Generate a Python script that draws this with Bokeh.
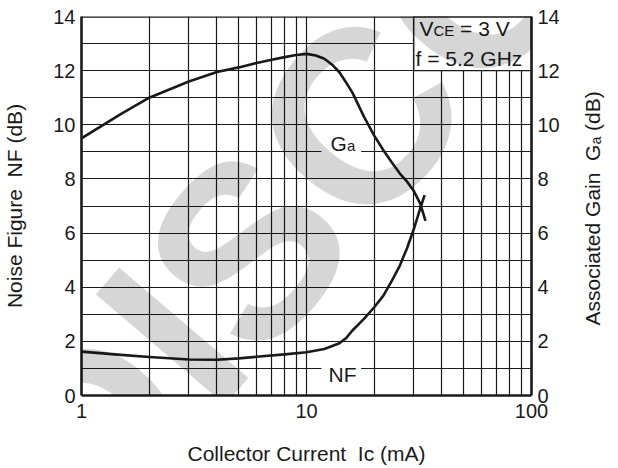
import math
from bokeh.plotting import figure
from bokeh.models import LinearAxis, FixedTicker, BasicTickFormatter, Label, Span
from bokeh.embed import file_html
from bokeh.resources import INLINE

# ---- data ----
ga_current = [1, 1.5, 2, 3, 4, 5, 6, 7, 8, 9, 10, 11, 12, 13, 14, 15, 16, 18, 20, 22, 24, 26, 28, 30, 32, 33.8]
ga_db = [9.5, 10.4, 11.0, 11.6, 11.95, 12.12, 12.28, 12.4, 12.5, 12.58, 12.62, 12.56, 12.44, 12.22, 11.94, 11.56, 11.19,
         10.3, 9.6, 9.05, 8.6, 8.2, 7.9, 7.55, 7.1, 6.45]
nf_current = [1, 1.5, 2, 3, 4, 5, 6, 8, 10, 12, 14, 15, 16, 18, 20, 22, 24, 26, 28, 30, 32, 33.5]
nf_db = [1.62, 1.5, 1.42, 1.33, 1.32, 1.37, 1.43, 1.52, 1.6, 1.72, 1.93, 2.12, 2.4, 2.83, 3.26, 3.7, 4.25, 4.8, 5.45,
         6.15, 6.9, 7.4]
x_major_ticks = [1, 10, 100]
x_grid_ticks = [1, 2, 3, 4, 5, 6, 7, 8, 9, 10, 20, 30, 40, 50, 60, 70, 80, 90, 100]
y_major_ticks = [0, 2, 4, 6, 8, 10, 12, 14]
y_grid_ticks = list(range(0, 15))

FONT = "Liberation Sans"
INK = "#1a1a1a"
NB = "\u00a0"

p = figure(width=618, height=468, x_axis_type="log", x_range=(1, 100), y_range=(0, 14),
           output_backend="svg", toolbar_location=None,
           min_border_left=81, min_border_right=85, min_border_top=16, min_border_bottom=73)
p.outline_line_color = None
p.background_fill_color = "white"
p.border_fill_color = "white"

# grids
p.xgrid.ticker = FixedTicker(ticks=x_grid_ticks)
p.ygrid.ticker = FixedTicker(ticks=y_grid_ticks)
for g in (p.xgrid, p.ygrid):
    g.grid_line_color = INK
    g.grid_line_width = 1.2
    g.grid_line_alpha = 1.0

# axes
p.xaxis.ticker = FixedTicker(ticks=x_major_ticks)
p.xaxis.formatter = BasicTickFormatter()
p.yaxis.ticker = FixedTicker(ticks=y_major_ticks)
right = LinearAxis(ticker=FixedTicker(ticks=y_major_ticks))
p.add_layout(right, "right")
for ax in (p.xaxis[0], p.yaxis[0], right):
    ax.axis_line_color = INK
    ax.axis_line_width = 2.6
    ax.major_tick_line_color = None
    ax.minor_tick_line_color = None
    ax.major_tick_out = 0
    ax.major_tick_in = 0
    ax.minor_tick_out = 0
    ax.major_label_text_font = FONT
    ax.major_label_text_font_size = "20px"
    ax.major_label_text_color = INK
    ax.axis_label_text_font = FONT
    ax.axis_label_text_font_size = "21px"
    ax.axis_label_text_font_style = "normal"
    ax.axis_label_text_color = INK
p.yaxis[0].major_label_standoff = 6
right.major_label_standoff = 6
p.xaxis[0].major_label_standoff = 8

p.xaxis[0].axis_label = "Collector Current " + NB + "I\u1d04 (mA)"
p.yaxis[0].axis_label = "Noise Figure " + NB + "NF (dB)"
right_text = "Associated Gain " + NB + "G\u2090 (dB)"
p.xaxis[0].axis_label_standoff = 21
p.yaxis[0].axis_label_standoff = 24
right.axis_label_standoff = 30
try:
    right.axis_label_align = "start"
    right.axis_label_orientation = math.pi / 2
    right.axis_label = NB * 12 + right_text
except Exception:
    right.axis_label = right_text

p.add_layout(Span(location=14, dimension="width", line_color=INK, line_width=2.6))

# legend box (covers grid in the corner)
p.quad(left=[30], right=[100], bottom=[12], top=[14], fill_color="white", line_color=INK, line_width=1.2)
# gaps in grid lines behind curve labels
p.quad(left=[11.65, 11.65], right=[17.5, 17.5], bottom=[8.85, 0.85], top=[9.15, 1.15],
       fill_color="white", line_color=None)

# curves
p.line(ga_current, ga_db, line_color=INK, line_width=2.6, line_join="round")
p.line(nf_current, nf_db, line_color=INK, line_width=2.6, line_join="round")

SHIFT = 0.38  # baseline correction (em)


def lab(x, y, text, size=21, align="left", **kw):
    p.add_layout(Label(x=x, y=y + SHIFT * size, x_units="screen", y_units="screen", text=text,
                       text_font=FONT, text_font_size=f"{size}px", text_color=INK,
                       text_align=align, text_baseline="alphabetic", **kw))


# curve labels
lab(249, 244, "G")
lab(265.5, 244, "a", size=15)
lab(247, 13.5, "NF")

# legend text
lab(338, 359, "V")
lab(352, 359, "CE", size=15)
lab(378.6, 359, "= 3 V")
lab(334, 329, "f = 5.2 GHz")

# watermark letters, each centred on its position
for ch, wx, wy in [("D", 9.6, -36.7), ("I", 90.0, 60.0), ("S", 165.5, 146.3),
                   ("C", 276.8, 276.6), ("O", 397.0, 417.6)]:
    p.add_layout(Label(x=wx, y=wy, x_units="screen", y_units="screen", text=ch,
                       angle=0.864, text_font=FONT, text_font_style="bold", text_font_size="247px",
                       text_color="black", text_alpha=0.16, text_align="center", text_baseline="middle",
                       level="overlay"))

open("out.html", "w").write(file_html(p, INLINE))
